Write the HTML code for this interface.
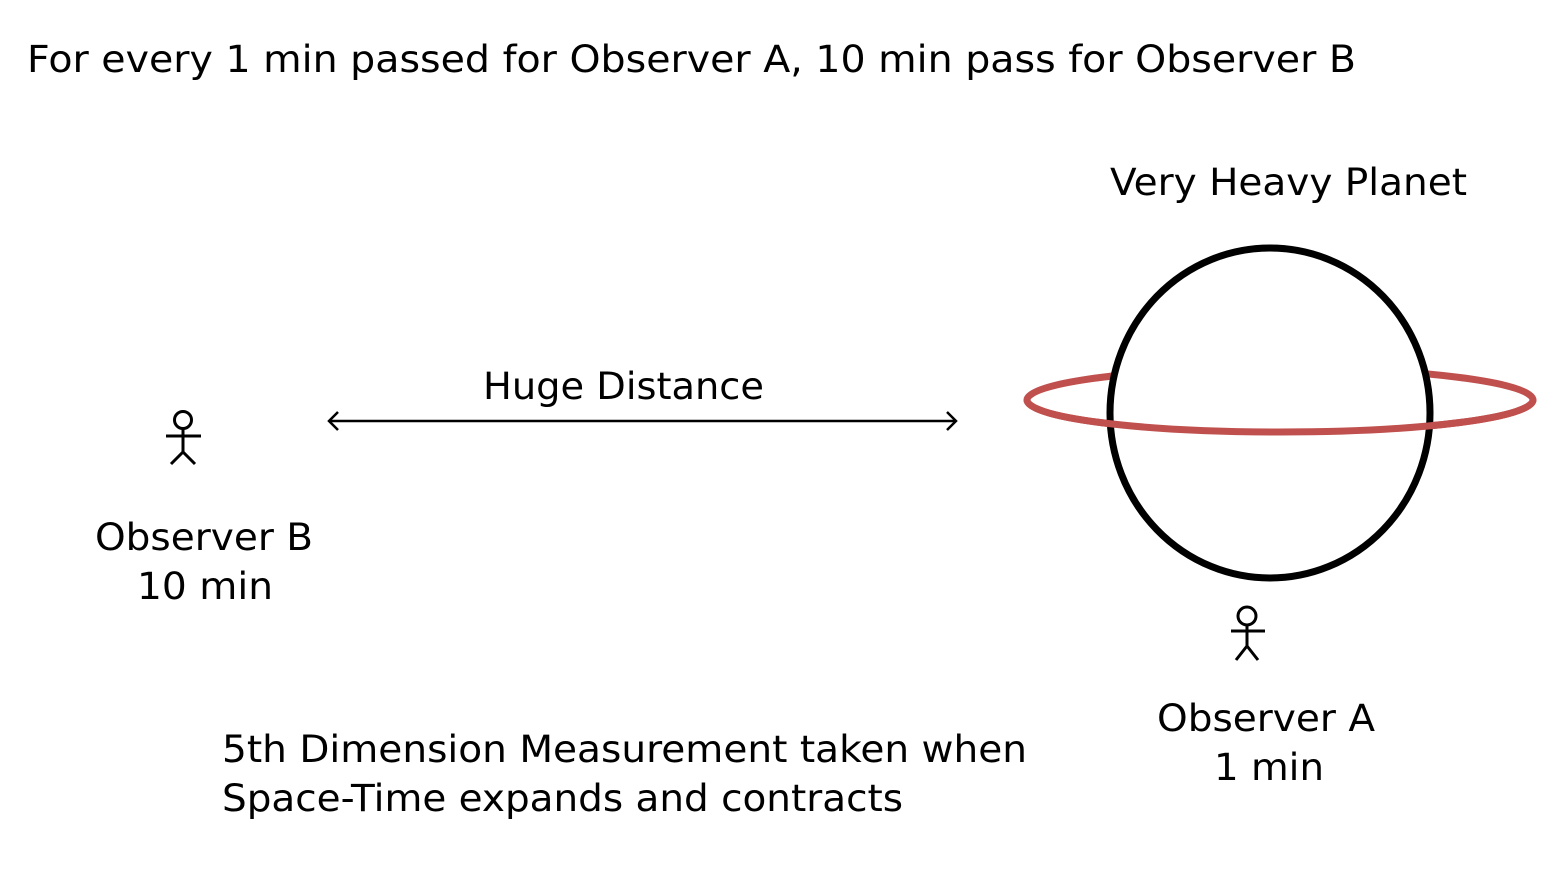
<!DOCTYPE html>
<html><head><meta charset="utf-8"><style>html,body{margin:0;padding:0;background:#fff}svg{display:block}</style></head>
<body>
<svg width="1557" height="885" viewBox="0 0 1557 885" xmlns="http://www.w3.org/2000/svg" font-family="'DejaVu Sans','Liberation Sans',sans-serif" font-size="37" fill="#000">
<text x="27" y="72" textLength="1329" lengthAdjust="spacingAndGlyphs">For every 1 min passed for Observer A, 10 min pass for Observer B</text>
<text x="1110" y="195" textLength="357" lengthAdjust="spacingAndGlyphs">Very Heavy Planet</text>
<text x="483" y="399" textLength="281" lengthAdjust="spacingAndGlyphs">Huge Distance</text>
<text x="95" y="550" textLength="218" lengthAdjust="spacingAndGlyphs">Observer B</text>
<text x="137" y="599" textLength="136" lengthAdjust="spacingAndGlyphs">10 min</text>
<text x="1157" y="731" textLength="218" lengthAdjust="spacingAndGlyphs">Observer A</text>
<text x="1214" y="780" textLength="110" lengthAdjust="spacingAndGlyphs">1 min</text>
<text x="222" y="762" textLength="805" lengthAdjust="spacingAndGlyphs">5th Dimension Measurement taken when</text>
<text x="222" y="811" textLength="681" lengthAdjust="spacingAndGlyphs">Space-Time expands and contracts</text>
<g stroke="#000" stroke-width="2.5" fill="none">
<line x1="329" y1="421" x2="956" y2="421"/>
<polyline points="338,412 329,421 338,430"/>
<polyline points="947,412 956,421 947,430"/>
</g>
<g stroke="#000" stroke-width="3" fill="none">
<circle cx="183" cy="420" r="8.5"/>
<line x1="183" y1="429" x2="183" y2="452"/>
<line x1="166" y1="436" x2="201" y2="436"/>
<polyline points="171,464 183,452 195,464"/>
<circle cx="1247" cy="616" r="9"/>
<line x1="1247" y1="625" x2="1247" y2="646"/>
<line x1="1231" y1="631" x2="1265" y2="631"/>
<polyline points="1236,660 1247,646 1258,660"/>
</g>
<ellipse cx="1280" cy="400" rx="253" ry="32" fill="none" stroke="#c0504d" stroke-width="7"/>
<ellipse cx="1270" cy="413" rx="160" ry="165" fill="#fff" stroke="#000" stroke-width="7"/>
<path d="M1027,400 A253,32 0 0 0 1533,400" fill="none" stroke="#c0504d" stroke-width="7"/>
</svg>
</body></html>
